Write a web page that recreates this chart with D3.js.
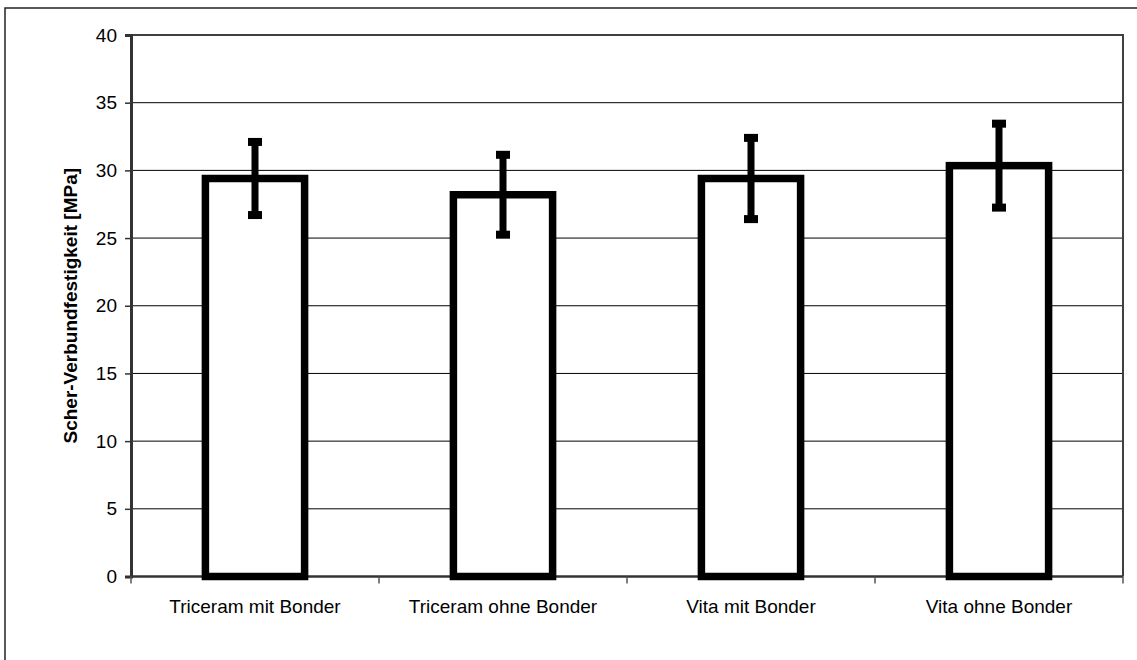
<!DOCTYPE html>
<html>
<head>
<meta charset="utf-8">
<script src="https://cdn.jsdelivr.net/npm/d3@7"></script>
<style>
  html, body { margin: 0; padding: 0; background: #fff; }
  svg { display: block; font-family: "Liberation Sans", Arial, sans-serif; }
</style>
</head>
<body>
<svg id="chart" width="1137" height="660"></svg>
<script>
const categories = ["Triceram mit Bonder", "Triceram ohne Bonder", "Vita mit Bonder", "Vita ohne Bonder"];
const means = [29.4, 28.2, 29.4, 30.35];
const errors = [2.7, 2.95, 3.0, 3.1];
const yTicks = [0, 5, 10, 15, 20, 25, 30, 35, 40];
const yTitle = "Scher-Verbundfestigkeit [MPa]";

const data = categories.map((c, i) => ({ cat: c, mean: means[i], err: errors[i] }));

const svg = d3.select("#chart");
const plot = { left: 131, right: 1123, top: 35, bottom: 576.5 };

// outer chart border
svg.append("rect")
  .attr("x", 5).attr("y", 8).attr("width", 1140).attr("height", 660)
  .attr("fill", "none").attr("stroke", "#222").attr("stroke-width", 1.5);

const x = d3.scaleBand().domain(categories)
  .range([plot.left, plot.right])
  .paddingInner(0.6).paddingOuter(0.3);
const y = d3.scaleLinear().domain([0, 40]).range([plot.bottom, plot.top]);

// gridlines
svg.append("g").selectAll("line")
  .data(yTicks.filter(t => t > 0 && t < 40))
  .join("line")
  .attr("x1", plot.left).attr("x2", plot.right)
  .attr("y1", d => y(d)).attr("y2", d => y(d))
  .attr("stroke", "#000").attr("stroke-width", 1);

// plot area border (top & right)
svg.append("path")
  .attr("d", `M${plot.left},${y(40)}H${plot.right}V${plot.bottom}`)
  .attr("fill", "none").attr("stroke", "#404040").attr("stroke-width", 2);

// y axis
const yAxis = d3.axisLeft(y).tickValues(yTicks).tickSize(6).tickPadding(8).tickFormat(d3.format("d"));
const gy = svg.append("g").attr("transform", `translate(${plot.left},0)`).call(yAxis);
gy.select(".domain").attr("stroke", "#333").attr("stroke-width", 3);
gy.selectAll(".tick line").attr("stroke", "#333").attr("stroke-width", 1.5);
gy.selectAll(".tick text").attr("font-size", 19).attr("fill", "#000")
  .attr("font-family", "'Liberation Sans', Arial, sans-serif");

// x axis
const step = x.step();
const boundaries = categories.map(c => x(c) - x.paddingOuter() * step).concat([plot.right]);
const gx = svg.append("g");
gx.append("line")
  .attr("x1", plot.left).attr("x2", plot.right)
  .attr("y1", plot.bottom).attr("y2", plot.bottom)
  .attr("stroke", "#333").attr("stroke-width", 2.5);
gx.selectAll("line.tk").data(boundaries).join("line").attr("class", "tk")
  .attr("x1", d => d).attr("x2", d => d)
  .attr("y1", plot.bottom).attr("y2", plot.bottom + 7)
  .attr("stroke", "#555").attr("stroke-width", 1.5);
gx.selectAll("text").data(categories).join("text")
  .attr("x", d => x(d) + x.bandwidth() / 2)
  .attr("y", 613)
  .attr("text-anchor", "middle")
  .attr("font-size", 19)
  .attr("fill", "#000")
  .text(d => d);

// bars
svg.append("g").selectAll("rect").data(data).join("rect")
  .attr("x", d => x(d.cat))
  .attr("width", x.bandwidth())
  .attr("y", d => y(d.mean))
  .attr("height", d => y(0) - y(d.mean))
  .attr("fill", "#fff")
  .attr("stroke", "#000")
  .attr("stroke-width", 7.5);

// error bars
const eb = svg.append("g").selectAll("g").data(data).join("g");
eb.append("line")
  .attr("x1", d => x(d.cat) + x.bandwidth() / 2)
  .attr("x2", d => x(d.cat) + x.bandwidth() / 2)
  .attr("y1", d => y(d.mean - d.err))
  .attr("y2", d => y(d.mean + d.err))
  .attr("stroke", "#000").attr("stroke-width", 7);
eb.append("rect")
  .attr("x", d => x(d.cat) + x.bandwidth() / 2 - 7)
  .attr("y", d => y(d.mean + d.err) - 4)
  .attr("width", 14).attr("height", 8).attr("fill", "#000");
eb.append("rect")
  .attr("x", d => x(d.cat) + x.bandwidth() / 2 - 7)
  .attr("y", d => y(d.mean - d.err) - 4)
  .attr("width", 14).attr("height", 8).attr("fill", "#000");

// y title
svg.append("text")
  .attr("transform", `translate(77,${(plot.top + plot.bottom) / 2}) rotate(-90)`)
  .attr("text-anchor", "middle")
  .attr("font-size", 19)
  .attr("font-weight", "bold")
  .attr("fill", "#000")
  .text(yTitle);
</script>
</body>
</html>
